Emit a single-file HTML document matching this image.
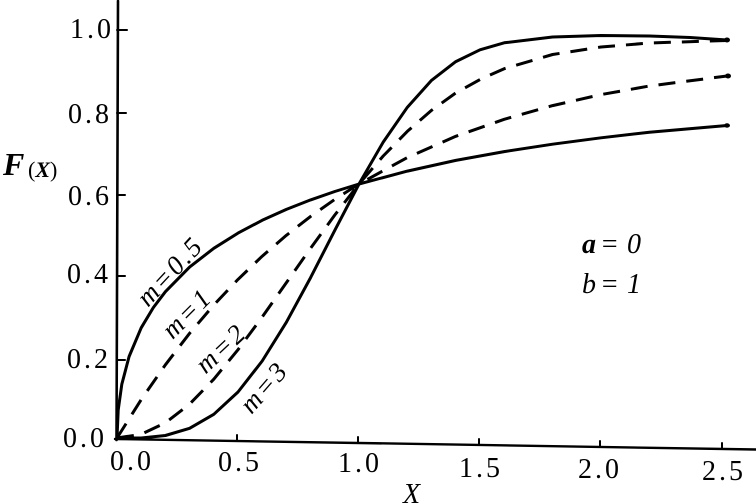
<!DOCTYPE html>
<html><head><meta charset="utf-8"><style>
html,body{margin:0;padding:0;background:#fff;}
svg{display:block;}
text{font-family:"Liberation Serif",serif;fill:#000;}
</style></head><body>
<svg width="756" height="503" viewBox="0 0 756 503" xmlns="http://www.w3.org/2000/svg">
<g stroke="#000" fill="none" stroke-linecap="round">
<!-- axes -->
<line x1="118" y1="1" x2="116.5" y2="440" stroke-width="2.6"/>
<line x1="115" y1="439" x2="756" y2="449.5" stroke-width="2.4"/>
<!-- y ticks -->
<line x1="117" y1="30" x2="127" y2="30" stroke-width="2"/>
<line x1="117" y1="113" x2="126" y2="113" stroke-width="2"/>
<line x1="117" y1="195" x2="125" y2="195" stroke-width="2"/>
<line x1="117" y1="276" x2="125" y2="276" stroke-width="2"/>
<line x1="117" y1="360" x2="125" y2="360" stroke-width="2"/>
<!-- x ticks -->
<line x1="237" y1="441" x2="237" y2="435" stroke-width="2"/>
<line x1="358" y1="443" x2="358" y2="437" stroke-width="2"/>
<line x1="479" y1="445" x2="479" y2="439" stroke-width="2"/>
<line x1="600" y1="447" x2="600" y2="441" stroke-width="2"/>
<line x1="722" y1="449" x2="722" y2="443" stroke-width="2"/>
</g>
<g stroke="#000" fill="none" stroke-width="3" stroke-linejoin="round" stroke-linecap="butt">
<!-- m=0.5 solid -->
<polyline points="117,438 118.2,410.1 121.8,384.3 129.1,356.5 141.2,327.8 153.3,307.6 165.4,291.7 189.6,267.1 213.8,248.3 238,233.1 262.2,220.3 286.4,209.4 310.6,199.9 334.8,191.5 359,184 407.4,171.1 455.8,160.4 504.2,151.6 552.6,144.2 601,137.8 649.4,132.2 727,125.5"/>
<!-- m=1 dashed -->
<polyline stroke-dasharray="17,11" points="117,438 141.2,399.6 165.4,364.8 189.6,333.3 213.8,305 238,279.4 262.2,256.2 286.4,235.3 310.6,216.4 334.8,199.4 359,184 407.4,157.5 455.8,136.3 504.2,119.3 552.6,105.6 601,94.6 649.4,86 727,76"/>
<!-- m=2 dashed -->
<polyline stroke-dasharray="17,11" points="117,438 141.2,434.3 165.4,422.8 189.6,404.1 213.8,379.2 238,349.7 262.2,317 286.4,282.6 310.6,248.2 334.8,215 359,184 383.2,156 407.4,131.3 431.6,110.3 455.8,92.9 480,79.5 504.2,68.7 552.6,54.5 601,47 649.4,43 727,40.5"/>
<!-- m=3 solid -->
<polyline points="117,438 141.2,438 165.4,435.5 189.6,428.3 213.8,414.3 238,392 262.2,361 286.4,322.2 310.6,277.6 334.8,230.3 359,184 383.2,142.1 407.4,107.2 431.6,80.3 455.8,61.6 480,49.8 504.2,42.8 552.6,37 601,35.5 649.4,36 690,37.5 727,40"/>
</g>
<!-- end blobs -->
<g fill="#000">
<ellipse cx="727" cy="40" rx="3" ry="2.5"/>
<ellipse cx="728" cy="76" rx="3" ry="2.5"/>
<ellipse cx="727" cy="125.5" rx="3" ry="2.2"/>
</g>
<!-- y tick labels -->
<g font-size="28" letter-spacing="3">
<text x="70" y="38">1.0</text>
<text x="68" y="123">0.8</text>
<text x="68" y="205">0.6</text>
<text x="67" y="283">0.4</text>
<text x="67" y="368">0.2</text>
<text x="63" y="447">0.0</text>
</g>
<!-- x tick labels -->
<g font-size="28" letter-spacing="3">
<text x="110" y="470">0.0</text>
<text x="218" y="471">0.5</text>
<text x="338" y="472">1.0</text>
<text x="459" y="477">1.5</text>
<text x="578" y="478">2.0</text>
<text x="702" y="480">2.5</text>
</g>
<!-- axis labels -->
<text x="403" y="503" font-size="28" font-style="italic">X</text>
<text x="3" y="175" font-size="32" font-style="italic" font-weight="bold">F</text>
<text x="28" y="177" font-size="22">(<tspan font-style="italic" font-weight="bold">X</tspan>)</text>
<!-- a=0 b=1 -->
<g font-size="28" font-style="italic">
<text x="582" y="253"><tspan font-weight="bold">a</tspan><tspan x="600">=</tspan><tspan x="627">0</tspan></text>
<text x="582" y="293"><tspan>b</tspan><tspan x="600">=</tspan><tspan x="627">1</tspan></text>
</g>
<!-- curve labels -->
<g font-size="27" font-style="italic" letter-spacing="2.5" text-anchor="middle" dominant-baseline="central">
<text transform="translate(170,271) rotate(-47)">m=0.5</text>
<text transform="translate(187,313) rotate(-45)">m=1</text>
<text transform="translate(221,348) rotate(-43)">m=2</text>
<text transform="translate(264,387) rotate(-49)">m=3</text>
</g>
</svg>
</body></html>
